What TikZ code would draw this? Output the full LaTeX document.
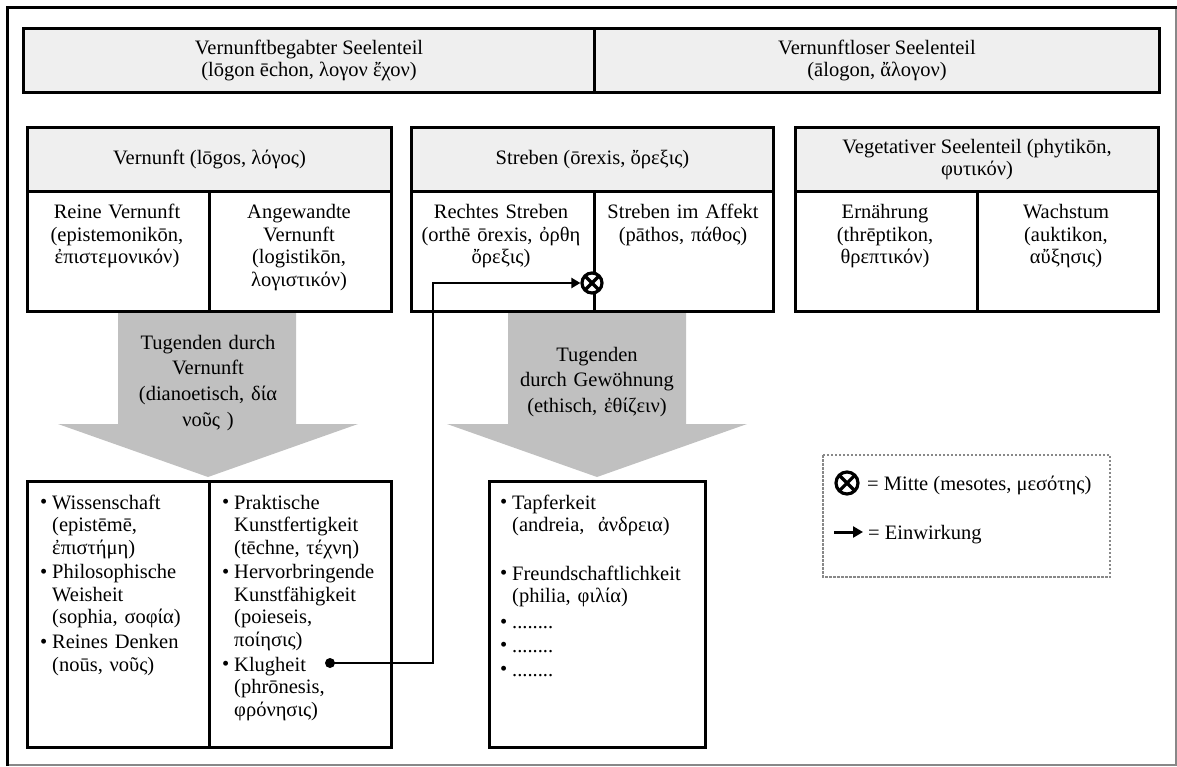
\documentclass[tikz,border=0pt]{standalone}
\usepackage{fontspec}
\setmainfont{Liberation Serif}
\usetikzlibrary{arrows.meta}
\definecolor{hdrgray}{HTML}{EFEFEF}
\definecolor{arrgray}{HTML}{C0C0C0}
\definecolor{framegray}{HTML}{888888}
\newcommand{\fsz}{\fontsize{20.5}{22.5}\selectfont}
\newcommand{\bitem}[1]{\noindent\hbox to 12pt{\raisebox{0.5pt}{•}\hfil}\begin{tabular}[t]{@{}l@{}}#1\end{tabular}\par}
\begin{document}
\begin{tikzpicture}[x=1pt,y=-1pt,
  box/.style={draw, line width=3pt, inner sep=0pt, anchor=north west},
  hdr/.style={box, fill=hdrgray, align=center, font=\fsz},
  txt/.style={align=center, font=\fsz, inner sep=0pt, anchor=base, text width=178pt},
  arrtxt/.style={align=center, font=\fontsize{20.5}{25.7}\selectfont, inner sep=0pt, anchor=base, text width=176pt},
  lst/.style={align=left, font=\fsz, inner sep=0pt, anchor=base west, text width=#1},
  mitte/.style={circle, draw, line width=3.2pt, fill=white, minimum size=#1, inner sep=0pt,
    path picture={\draw[line width=3.2pt] (path picture bounding box.north west) -- (path picture bounding box.south east)
      (path picture bounding box.north east) -- (path picture bounding box.south west);}},
  conn/.style={line width=2.8pt},
  legtxt/.style={anchor=base west, font=\fsz, inner sep=0pt},
]
\useasboundingbox (0,0) rectangle (1177,767);

% outer frame
\draw[framegray, line width=1.2pt] (7,8) rectangle (1176,765);
\draw[line width=3pt] (7,766) -- (7,8) -- (1177,8);

% gray arrows
\fill[arrgray] (118,313) -- (296,313) -- (296,424) -- (358,424) -- (208,477) -- (58,424) -- (118,424) -- cycle;
\fill[arrgray] (508,313) -- (686,313) -- (686,424) -- (747,424) -- (597,477) -- (447,424) -- (508,424) -- cycle;
\node[arrtxt] (a1t) at (208,349) {Tugenden durch\\Vernunft\\(dianoetisch, δία\\νοῦς )};
\node[arrtxt] (a2t) at (597,361) {Tugenden\\durch Gewöhnung\\(ethisch, ἐθίζειν)};

% top header
\node[hdr, minimum width=571pt, minimum height=64pt] (vb) at (22,27) {Vernunftbegabter Seelenteil\\(lōgon ēchon, λογον ἔχον)};
\node[hdr, minimum width=565pt, minimum height=64pt] (vl) at (593,27) {Vernunftloser Seelenteil\\(ālogon, ἄλογον)};

% box 1: Vernunft
\node[hdr, minimum width=364pt, minimum height=64pt] (v) at (26,126) {Vernunft (lōgos, λόγος)};
\node[box, minimum width=182pt, minimum height=120pt] (rv) at (26,190) {};
\node[box, minimum width=182pt, minimum height=120pt] (av) at (208,190) {};
\node[txt] (rvt) at (117,219) {Reine Vernunft\\(epistemonikōn,\\ἐπιστεμονικόν)};
\node[txt] (avt) at (299,219) {Angewandte\\Vernunft\\(logistikōn,\\λογιστικόν)};

% box 2: Streben
\node[hdr, minimum width=362pt, minimum height=64pt] (s) at (410,126) {Streben (ōrexis, ὄρεξις)};
\node[box, minimum width=183pt, minimum height=120pt] (rs) at (410,190) {};
\node[box, minimum width=179pt, minimum height=120pt] (sa) at (593,190) {};
\node[txt] (rst) at (501,219) {Rechtes Streben\\(orthē ōrexis, ὀρθη\\ὄρεξις)};
\node[txt] (sat) at (683,219) {Streben im Affekt\\(pāthos, πάθος)};

% box 3: vegetativ
\node[hdr, minimum width=363pt, minimum height=64pt] (vg) at (794,126) {Vegetativer Seelenteil (phytikōn,\\φυτικόν)};
\node[box, minimum width=182pt, minimum height=120pt] (er) at (794,190) {};
\node[box, minimum width=181pt, minimum height=120pt] (wa) at (976,190) {};
\node[txt] (ert) at (885,219) {Ernährung\\(thrēptikon,\\θρεπτικόν)};
\node[txt] (wat) at (1066,219) {Wachstum\\(auktikon,\\αὔξησις)};

% bottom boxes
\node[box, minimum width=182pt, minimum height=266pt] (dl) at (26,480) {};
\node[box, minimum width=182pt, minimum height=266pt] (dr) at (208,480) {};
\node[box, minimum width=216pt, minimum height=266pt] (eb) at (488,480) {};

\node[lst=170pt] (l1) at (40,509) {\setlength{\parskip}{1.3pt}%
\bitem{Wissenschaft\\(epistēmē,\\ἐπιστήμη)}%
\bitem{Philosophische\\Weisheit\\(sophia, σοφία)}%
\bitem{Reines Denken\\(noūs, νοῦς)}};
\node[lst=170pt] (l2) at (222,509) {\setlength{\parskip}{1.3pt}%
\bitem{Praktische\\Kunstfertigkeit\\(tēchne, τέχνη)}%
\bitem{Hervorbringende\\Kunstfähigkeit\\(poieseis,\\ποίησις)}%
\bitem{Klugheit\\(phrōnesis,\\φρόνησις)}};
\node[lst=200pt] (l3) at (500,509) {\setlength{\parskip}{1.3pt}%
\bitem{Tapferkeit\\(andreia,~ ἀνδρεια)}%
\vspace{24pt}%
\bitem{Freundschaftlichkeit\\(philia, φιλία)}%
\vspace{1pt}%
\bitem{........}%
\bitem{........}%
\bitem{........}};

% Einwirkung connector
\node[circle, fill=black, inner sep=0pt, minimum size=10pt] (kd) at (330,663) {};
\coordinate (c1) at (433,663);
\coordinate (c2) at (433,283);
\node[mitte=20pt] (mx) at (592,283) {};
\draw[conn, -{Triangle[length=9pt,width=10pt]}] (kd.center) -- (c1) -- (c2) -- (mx);

% legend
\draw[framegray, line width=1.2pt, dash pattern=on 2.5pt off 1.5pt] (823,455) rectangle (1110,577);
\node[mitte=22pt] (lm) at (847,483) {};
\node[legtxt] (lt1) at (867,490) {= Mitte (mesotes, μεσότης)};
\coordinate (la) at (834,532);
\coordinate (lb) at (863,532);
\node[legtxt] (lt2) at (868,539) {= Einwirkung};
\draw[conn, line width=3pt, -{Triangle[length=10pt,width=11pt]}] (la) -- (lb);
\end{tikzpicture}
\end{document}
